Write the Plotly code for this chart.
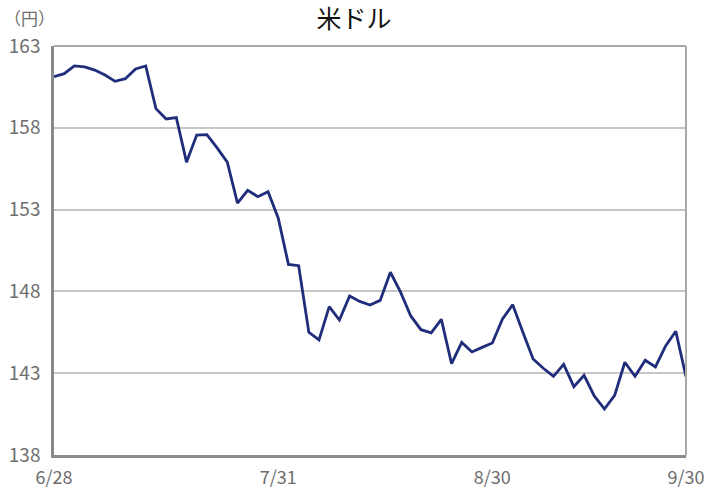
import plotly.graph_objects as go

dates = [
    "6/28",
    "7/1", "7/2", "7/3", "7/4", "7/5", "7/8", "7/9", "7/10", "7/11", "7/12",
    "7/16", "7/17", "7/18", "7/19", "7/22", "7/23", "7/24", "7/25", "7/26",
    "7/29", "7/30", "7/31",
    "8/1", "8/2", "8/5", "8/6", "8/7", "8/8", "8/9", "8/13", "8/14", "8/15",
    "8/16", "8/19", "8/20", "8/21", "8/22", "8/23", "8/26", "8/27", "8/28",
    "8/29", "8/30",
    "9/2", "9/3", "9/4", "9/5", "9/6", "9/9", "9/10", "9/11", "9/12", "9/13",
    "9/17", "9/18", "9/19", "9/20", "9/24", "9/25", "9/26", "9/27", "9/30",
]

usd_jpy = [
    161.12,
    161.31, 161.78, 161.72, 161.53, 161.23, 160.84, 161.00, 161.60, 161.78, 159.17,
    158.54, 158.62, 155.90, 157.56, 157.58, 156.77, 155.90, 153.40, 154.18,
    153.79, 154.09, 152.47,
    149.65, 149.57, 145.50, 145.03, 147.07, 146.25, 147.72, 147.39, 147.17, 147.45,
    149.17, 147.95, 146.50, 145.66, 145.46, 146.29, 143.58, 144.88, 144.30,
    144.58, 144.85,
    146.31, 147.19, 145.50, 143.87, 143.30, 142.81, 143.54, 142.18, 142.87, 141.61,
    140.81, 141.65, 143.67, 142.81, 143.79, 143.38, 144.67, 145.56, 142.79,
]

x_tick_labels = ["6/28", "7/31", "8/30", "9/30"]
y_ticks = [138, 143, 148, 153, 158, 163]

title_text = "米ドル"
unit_text = "（円）"

FONT = "Noto Sans CJK JP"
TICK_COLOR = "#6e6e6e"

W, H = 708, 493
ML, MR, MT, MB = 54, 22, 46, 38
PW, PH = W - ML - MR, H - MT - MB

fig = go.Figure()
fig.add_trace(go.Scatter(
    x=list(range(len(dates))),
    y=usd_jpy,
    mode="lines",
    line=dict(color="#1f2d7b", width=2.8),
    customdata=dates,
    hovertemplate="%{customdata}: %{y}<extra></extra>",
    showlegend=False,
))

tick_idx = [dates.index(d) for d in x_tick_labels]

fig.update_layout(
    width=W, height=H,
    margin=dict(l=ML, r=MR, t=MT, b=MB, autoexpand=False),
    paper_bgcolor="white",
    plot_bgcolor="white",
    font=dict(family=FONT, color=TICK_COLOR, size=16),
    title=dict(text=title_text, x=0.5, xref="container", xanchor="center",
               y=1 - 19 / H, yref="container", yanchor="middle",
               font=dict(family=FONT, size=25, color="#111111")),
    xaxis=dict(
        range=[0, len(dates) - 1],
        tickvals=tick_idx, ticktext=x_tick_labels,
        showgrid=False, zeroline=False, automargin=False,
        showline=True, linecolor="#8a8a8a", linewidth=2.5,
        ticks="", ticklabelstandoff=5,
        tickfont=dict(family=FONT, size=18, color=TICK_COLOR),
    ),
    yaxis=dict(
        range=[138, 163],
        tickvals=y_ticks,
        showgrid=True, gridcolor="#c6c6c6", gridwidth=1.5,
        zeroline=False, automargin=False,
        showline=True, linecolor="#8a8a8a", linewidth=2.5,
        ticks="", ticklabelstandoff=7,
        tickfont=dict(family=FONT, size=19, color=TICK_COLOR),
    ),
    shapes=[
        dict(type="line", xref="paper", yref="paper", x0=0, x1=1, y0=1, y1=1,
             line=dict(color="#a8a8a8", width=2)),
        dict(type="line", xref="paper", yref="paper", x0=1, x1=1, y0=0, y1=1,
             line=dict(color="#a8a8a8", width=2)),
    ],
    annotations=[
        dict(text=unit_text, xref="paper", yref="paper",
             x=(2 - ML) / PW, y=(H - 18 - MB) / PH,
             xanchor="left", yanchor="middle", showarrow=False,
             font=dict(family=FONT, size=17, color=TICK_COLOR)),
    ],
)

fig.write_html(
    "out.html",
    config={"displayModeBar": False},
    post_script="document.body.style.margin='0';document.body.style.overflow='hidden';",
)
